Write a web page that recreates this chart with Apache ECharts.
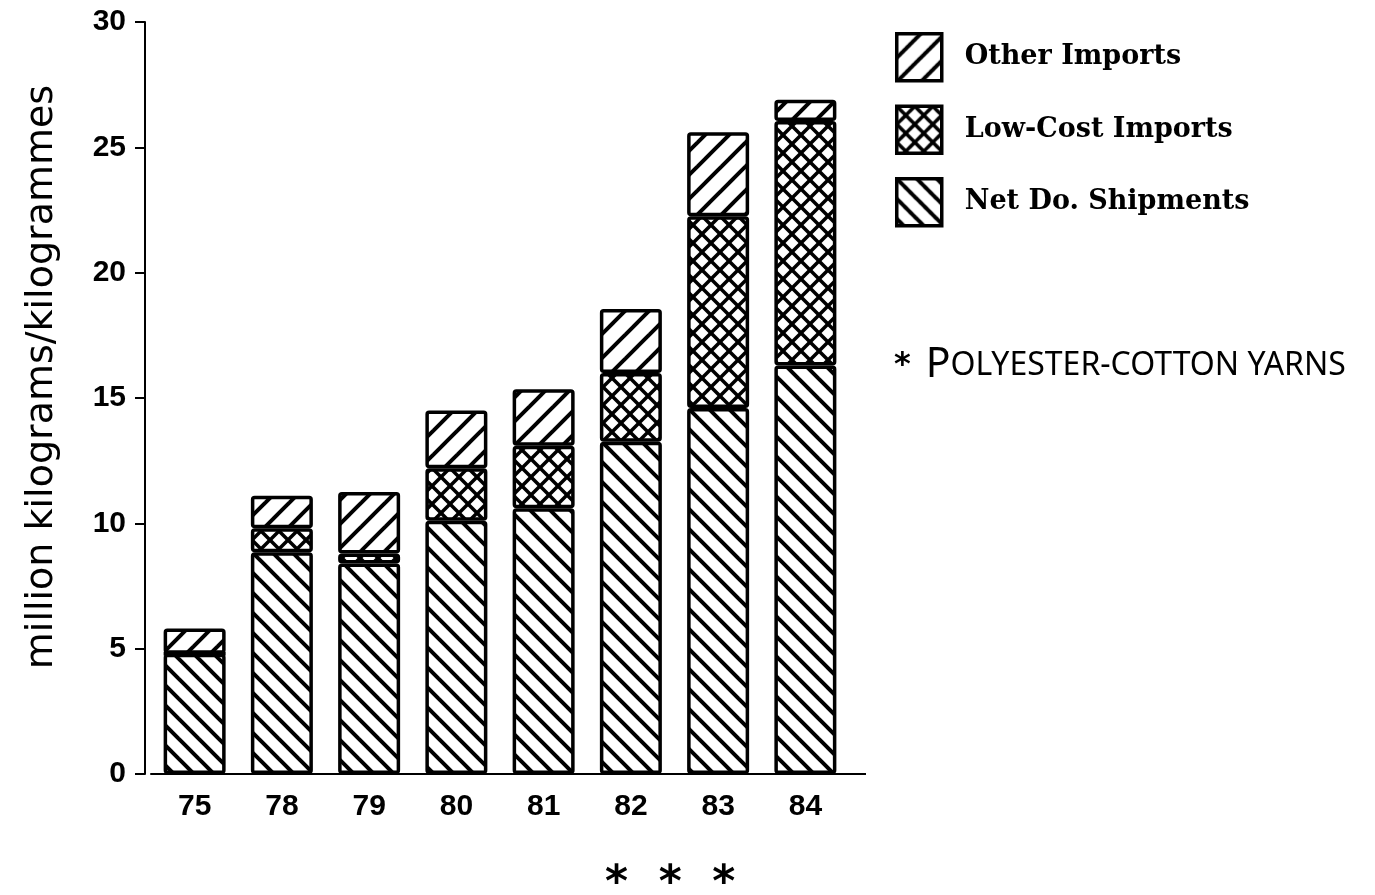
<!DOCTYPE html>
<html>
<head>
<meta charset="utf-8">
<script src="https://cdn.jsdelivr.net/npm/echarts@6/dist/echarts.min.js"></script>
<style>
  html, body { margin: 0; padding: 0; background: #fff; }
  #myCharts { width: 1375px; height: 895px; }
</style>
</head>
<body>
<div id="myCharts"></div>
<script>
// data
const years = ["75", "78", "79", "80", "81", "82", "83", "84"];
const netShipments = [4.8, 8.85, 8.4, 10.1, 10.6, 13.25, 14.6, 16.3];
const lowCostImports = [0, 0.95, 0.4, 2.1, 2.5, 2.75, 7.65, 9.75];
const otherImports = [1.0, 1.3, 2.45, 2.3, 2.25, 2.55, 3.35, 0.85];
const legendNames = ["Other Imports", "Low-Cost Imports", "Net Do. Shipments"];

// hatch fill made on a small canvas (lines drawn long so tiles join cleanly)
function hatch(kind, size, lw) {
  const c = document.createElement("canvas");
  c.width = size;
  c.height = size;
  const ctx = c.getContext("2d");
  ctx.fillStyle = "#fff";
  ctx.fillRect(0, 0, size, size);
  ctx.strokeStyle = "#000";
  ctx.lineWidth = lw;
  for (let k = -2; k <= 3; k++) {
    const v = k * size;
    if (kind === "fwd" || kind === "cross") {
      // x + y = v
      ctx.beginPath();
      ctx.moveTo(v - 3 * size, 3 * size);
      ctx.lineTo(v + 3 * size, -3 * size);
      ctx.stroke();
    }
    if (kind === "back" || kind === "cross") {
      // x - y = v
      ctx.beginPath();
      ctx.moveTo(v - 3 * size, -3 * size);
      ctx.lineTo(v + 3 * size, 3 * size);
      ctx.stroke();
    }
  }
  return { image: c, repeat: "repeat" };
}

const myCharts = echarts.init(document.getElementById("myCharts"));

function barSeries(name, data, fill) {
  return {
    name: name,
    type: "bar",
    stack: "total",
    barWidth: 62,
    data: data,
    itemStyle: {
      color: fill,
      borderColor: "#000",
      borderWidth: 3.5,
      borderRadius: 2,
    },
  };
}

const tickFont = {
  fontSize: 30,
  fontWeight: "bold",
  fontFamily: "Liberation Sans",
  color: "#000",
};

let option = {
  backgroundColor: "#fff",
  animation: false,
  title: [
    {
      text: "*  *  *",
      left: 600,
      top: 858,
      textStyle: { fontSize: 44, fontWeight: "bold", color: "#000", fontFamily: "DejaVu Sans" },
    },
    {
      text: "{s|*}   {b|P}{a|OLYESTER-COTTON YARNS}",
      left: 889,
      top: 340,
      textStyle: {
        rich: {
          s: { fontSize: 32, fontWeight: "bold", fontFamily: "DejaVu Sans", color: "#000" },
          b: { fontSize: 41, fontWeight: "normal", fontFamily: "Noto Sans", color: "#000" },
          a: { fontSize: 32, fontWeight: "normal", fontFamily: "Noto Sans", color: "#000" },
        },
      },
    },
  ],
  legend: {
    orient: "vertical",
    left: 890,
    top: 27,
    itemWidth: 45,
    itemHeight: 47,
    itemGap: 22,
    data: legendNames,
    icon: "rect",
    itemStyle: { borderColor: "#000", borderWidth: 3.5 },
    textStyle: {
      fontSize: 27,
      fontWeight: "bold",
      fontFamily: "DejaVu Serif",
      color: "#000",
      padding: [0, 0, 0, 18],
    },
  },
  grid: {
    left: 151,
    right: 1375 - 849,
    top: 22,
    bottom: 895 - 774,
  },
  xAxis: {
    type: "category",
    data: years,
    axisLine: { lineStyle: { color: "#000", width: 2 } },
    axisTick: { alignWithLabel: true, length: 11, lineStyle: { color: "#000", width: 2 } },
    axisLabel: Object.assign({ margin: 18 }, tickFont),
  },
  yAxis: {
    type: "value",
    min: 0,
    max: 30,
    interval: 5,
    offset: 6,
    name: "million kilograms/kilogrammes",
    nameLocation: "middle",
    nameGap: 84,
    nameTextStyle: {
      fontSize: 38,
      fontFamily: "DejaVu Sans",
      color: "#000",
      padding: [0, 0, 0, 42],
    },
    axisLine: { show: true, lineStyle: { color: "#000", width: 2 } },
    axisTick: { show: true, length: 10, lineStyle: { color: "#000", width: 2 } },
    splitLine: { show: false },
    axisLabel: Object.assign({ margin: 19 }, tickFont),
  },
  graphic: [
    {
      // axis line continues a little past the last band
      type: "line",
      shape: { x1: 849, y1: 774, x2: 866, y2: 774 },
      style: { stroke: "#000", lineWidth: 2 },
    },
  ],
  series: [
    barSeries("Net Do. Shipments", netShipments, hatch("back", 20, 4)),
    barSeries("Low-Cost Imports", lowCostImports, hatch("cross", 18, 3.5)),
    barSeries("Other Imports", otherImports, hatch("fwd", 24, 4)),
  ],
};

myCharts.setOption(option);
</script>
</body>
</html>
